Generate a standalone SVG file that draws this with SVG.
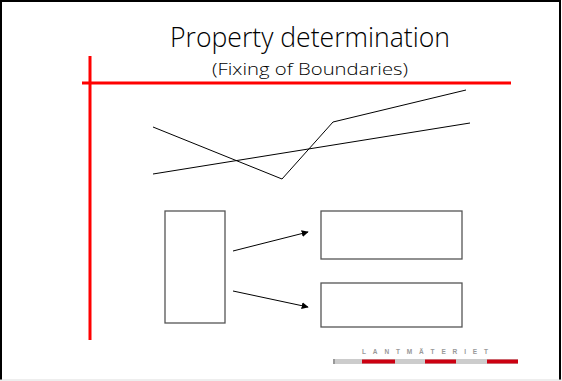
<svg xmlns="http://www.w3.org/2000/svg" width="562" height="381" viewBox="0 0 562 381">
<defs>
<style>
.box{fill:#fff;stroke:#555;stroke-width:1.3}
.ln{fill:none;stroke:#000;stroke-width:1}
.red{stroke:#ff0000;stroke-width:3}
.t{font-family:"Open Sans","Liberation Sans",Arial,sans-serif;font-weight:300;fill:#000;text-anchor:middle}
</style>
<marker id="ah" viewBox="0 0 10 10" refX="9" refY="5" markerWidth="7" markerHeight="7" orient="auto" markerUnits="userSpaceOnUse">
<path d="M0,0 L10,5 L0,10 z" fill="#000"/>
</marker>
</defs>
<rect width="562" height="381" fill="#fff"/>
<path d="M1,380 V1 H560 V380" fill="none" stroke="#000" stroke-width="2"/>
<line x1="0" y1="380" x2="562" y2="380" stroke="#ddd" stroke-width="1"/>
<g id="title">
<text class="t" x="310" y="47" font-size="27" textLength="280" lengthAdjust="spacingAndGlyphs">Property determination</text>
<text class="t" x="310" y="75" font-size="16.5" textLength="196" lengthAdjust="spacingAndGlyphs">(Fixing of Boundaries)</text>
</g>
<g id="axes">
<line class="red" x1="82" y1="83" x2="511" y2="83"/>
<line class="red" x1="90" y1="56" x2="90" y2="340"/>
</g>
<g id="lines">
<polyline class="ln" points="153,127 282,179 333,122 466,90"/>
<line class="ln" x1="153" y1="174" x2="470" y2="123"/>
</g>
<g id="source"><rect class="box" x="165" y="211" width="60" height="112"/></g>
<g id="target1"><rect class="box" x="321" y="211" width="141" height="48"/></g>
<g id="target2"><rect class="box" x="321" y="283" width="141" height="44"/></g>
<g id="connectors">
<line class="ln" x1="233" y1="251" x2="308" y2="232" marker-end="url(#ah)"/>
<line class="ln" x1="233" y1="291" x2="308" y2="307" marker-end="url(#ah)"/>
</g>
<g id="logo">
<text x="425" y="353.5" font-family="Liberation Sans,Arial,sans-serif" font-size="6.5" font-weight="bold" fill="#999" text-anchor="middle" textLength="126" lengthAdjust="spacing">LANTMÄTERIET</text>
<rect x="333" y="359" width="185" height="5" fill="#ccc"/>
<rect x="333" y="359" width="2" height="5" fill="#999"/>
<rect x="362" y="359.5" width="33" height="4" fill="#cc0011"/>
<rect x="425" y="359.5" width="31" height="4" fill="#cc0011"/>
<rect x="487" y="359.5" width="31" height="4" fill="#cc0011"/>
</g>
</svg>
